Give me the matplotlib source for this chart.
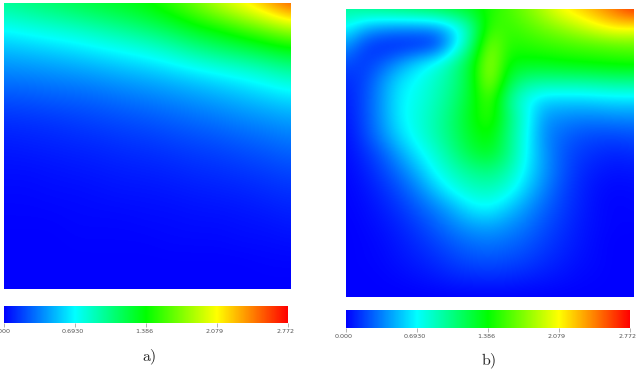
#!/usr/bin/env python3
# -*- coding: UTF-8 -*-
""" Two scalar field panels a) and b), each with its own horizontal colour bar """

import numpy as np
import matplotlib
matplotlib.use('Agg')
import matplotlib.pyplot as plt
from matplotlib.colors import LinearSegmentedColormap, Normalize
from matplotlib.cm import ScalarMappable
from matplotlib.transforms import ScaledTranslation

W, H = 637, 370

bar_ticks = [0.0, 0.693, 1.386, 2.079, 2.772]
bar_labels = ['0.000', '0.6930', '1.386', '2.079', '2.772']
cmap_colors = ['#0000ff', '#00ffff', '#00ff00', '#ffff00', '#ff0000']
panel_labels = ['a)', 'b)']

# node values, top row first
field_a = [
    [1.00, 1.07, 1.13, 1.20, 1.27, 1.33, 1.41, 1.55, 1.72, 1.95, 2.13, 2.35, 2.60],
    [0.72, 0.77, 0.82, 0.87, 0.94, 1.02, 1.11, 1.22, 1.36, 1.45, 1.60, 1.74, 1.90],
    [0.50, 0.53, 0.56, 0.60, 0.65, 0.70, 0.76, 0.85, 0.97, 1.07, 1.14, 1.23, 1.32],
    [0.35, 0.36, 0.38, 0.40, 0.43, 0.47, 0.50, 0.55, 0.60, 0.66, 0.72, 0.80, 0.90],
    [0.22, 0.23, 0.25, 0.26, 0.28, 0.31, 0.34, 0.37, 0.41, 0.45, 0.50, 0.55, 0.60],
    [0.12, 0.13, 0.14, 0.16, 0.18, 0.20, 0.22, 0.25, 0.28, 0.31, 0.35, 0.38, 0.42],
    [0.07, 0.08, 0.09, 0.10, 0.11, 0.13, 0.14, 0.16, 0.18, 0.20, 0.23, 0.26, 0.30],
    [0.04, 0.04, 0.05, 0.06, 0.07, 0.08, 0.09, 0.10, 0.12, 0.13, 0.15, 0.17, 0.20],
    [0.02, 0.02, 0.03, 0.03, 0.04, 0.05, 0.05, 0.06, 0.07, 0.08, 0.09, 0.11, 0.13],
    [0.01, 0.01, 0.01, 0.02, 0.02, 0.02, 0.03, 0.03, 0.04, 0.04, 0.05, 0.06, 0.08],
    [0.00, 0.00, 0.00, 0.01, 0.01, 0.01, 0.01, 0.02, 0.02, 0.02, 0.03, 0.03, 0.04],
    [0.00, 0.00, 0.00, 0.00, 0.00, 0.00, 0.00, 0.00, 0.00, 0.00, 0.00, 0.01, 0.01],
    [0.00, 0.00, 0.00, 0.00, 0.00, 0.00, 0.00, 0.00, 0.00, 0.00, 0.00, 0.00, 0.00],
]

field_b = [
    [0.98, 1.03, 1.07, 1.11, 1.15, 1.20, 1.27, 1.33, 1.45, 1.58, 1.72, 1.90, 2.10, 2.22, 2.35, 2.50, 2.68],
    [0.72, 0.50, 0.42, 0.40, 0.40, 0.42, 0.60, 0.95, 1.55, 1.52, 1.60, 1.70, 1.80, 1.92, 2.05, 2.15, 2.12],
    [0.42, 0.18, 0.10, 0.08, 0.08, 0.12, 0.55, 1.05, 1.78, 1.47, 1.48, 1.52, 1.55, 1.58, 1.60, 1.63, 1.65],
    [0.22, 0.15, 0.25, 0.42, 0.60, 0.75, 0.98, 1.28, 1.88, 1.36, 1.35, 1.35, 1.38, 1.40, 1.42, 1.44, 1.45],
    [0.12, 0.18, 0.40, 0.62, 0.72, 0.85, 1.00, 1.28, 1.85, 1.22, 1.00, 0.98, 0.98, 0.98, 1.00, 1.02, 1.02],
    [0.08, 0.20, 0.42, 0.66, 0.75, 0.88, 1.05, 1.30, 1.62, 1.00, 0.72, 0.58, 0.58, 0.58, 0.60, 0.62, 0.62],
    [0.06, 0.20, 0.42, 0.66, 0.78, 0.92, 1.10, 1.35, 1.55, 1.10, 0.75, 0.42, 0.38, 0.36, 0.36, 0.38, 0.38],
    [0.04, 0.18, 0.38, 0.60, 0.76, 0.92, 1.10, 1.30, 1.42, 1.05, 0.72, 0.38, 0.28, 0.22, 0.20, 0.20, 0.22],
    [0.03, 0.12, 0.25, 0.45, 0.65, 0.82, 1.02, 1.22, 1.30, 1.05, 0.70, 0.42, 0.24, 0.16, 0.12, 0.10, 0.12],
    [0.02, 0.08, 0.18, 0.32, 0.50, 0.72, 0.88, 1.00, 1.05, 0.92, 0.66, 0.42, 0.24, 0.12, 0.07, 0.05, 0.06],
    [0.01, 0.05, 0.12, 0.22, 0.36, 0.55, 0.74, 0.85, 0.88, 0.78, 0.56, 0.36, 0.20, 0.10, 0.04, 0.02, 0.03],
    [0.01, 0.03, 0.08, 0.15, 0.25, 0.36, 0.50, 0.66, 0.70, 0.56, 0.42, 0.28, 0.17, 0.09, 0.03, 0.01, 0.02],
    [0.00, 0.02, 0.05, 0.10, 0.17, 0.26, 0.36, 0.44, 0.46, 0.40, 0.32, 0.22, 0.14, 0.07, 0.03, 0.01, 0.01],
    [0.00, 0.01, 0.03, 0.07, 0.12, 0.18, 0.25, 0.30, 0.32, 0.29, 0.24, 0.17, 0.11, 0.06, 0.02, 0.00, 0.00],
    [0.00, 0.01, 0.02, 0.05, 0.08, 0.12, 0.17, 0.21, 0.22, 0.20, 0.17, 0.12, 0.08, 0.04, 0.02, 0.00, 0.00],
    [0.00, 0.00, 0.01, 0.02, 0.04, 0.06, 0.09, 0.10, 0.11, 0.10, 0.08, 0.06, 0.04, 0.02, 0.01, 0.00, 0.00],
    [0.00, 0.00, 0.00, 0.00, 0.00, 0.00, 0.00, 0.00, 0.00, 0.00, 0.00, 0.00, 0.00, 0.00, 0.00, 0.00, 0.00],
]

plt.rcParams['mathtext.fontset'] = 'cm'

cmap = LinearSegmentedColormap.from_list('rainbow5', cmap_colors, N=512)
norm = Normalize(vmin=bar_ticks[0], vmax=bar_ticks[-1])


def px_axes(fig, x0, y0, x1, y1):
    """ Axes from pixel box, y measured from the top """
    return fig.add_axes([x0/W, 1-y1/H, (x1-x0)/W, (y1-y0)/H])


def draw_panel(fig, field, box, bar_box, label, label_xy):
    ax = px_axes(fig, *box)
    data = np.array(field)
    nr, nc = data.shape
    ax.imshow(data, cmap=cmap, norm=norm, aspect='auto', interpolation='bicubic')
    # nodes sit exactly on the panel edges
    ax.set_xlim(0, nc-1)
    ax.set_ylim(nr-1, 0)
    ax.axis('off')

    cax = px_axes(fig, *bar_box)
    cb = fig.colorbar(ScalarMappable(norm=norm, cmap=cmap), cax=cax, orientation='horizontal')
    cb.set_ticks(bar_ticks)
    cb.set_ticklabels(bar_labels)
    cb.ax.tick_params(length=3, width=0.4, color='#777777', labelsize=4.6,
                      labelcolor='#555555', pad=1.5)
    cb.outline.set_visible(False)

    # tick labels sit slightly left of their ticks
    shift = ScaledTranslation(-2/100., 0, fig.dpi_scale_trans)
    for t in cb.ax.get_xticklabels():
        t.set_transform(t.get_transform() + shift)

    fig.text(label_xy[0]/W, 1-label_xy[1]/H, '$\\mathrm{%s}$' % label, fontsize=11.5,
             color='#222222', ha='center', va='center')


fig = plt.figure(figsize=(W/100., H/100.), dpi=100)
draw_panel(fig, field_a, (4, 3, 291, 289), (4, 306, 288, 323), panel_labels[0], (149, 357))
draw_panel(fig, field_b, (346, 9, 634, 297), (346, 310, 630, 328), panel_labels[1], (489, 361))
fig.savefig('out.png', dpi=100)
